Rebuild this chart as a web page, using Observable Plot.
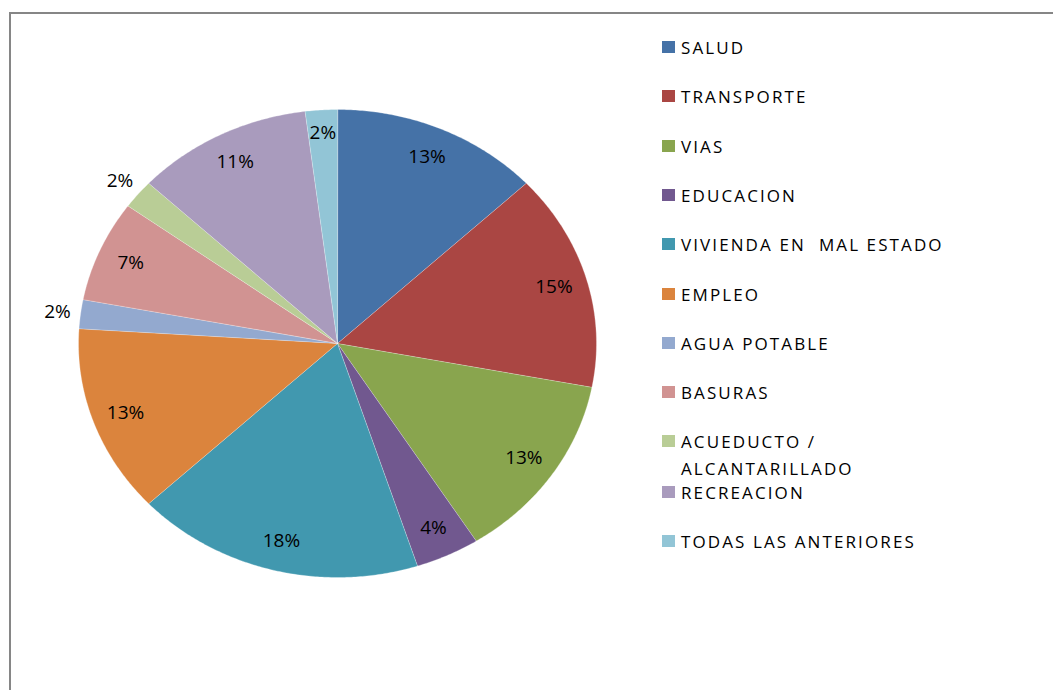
<!DOCTYPE html>
<html>
<head>
<meta charset="utf-8">
<script src="https://cdn.jsdelivr.net/npm/d3@7"></script>
<script src="https://cdn.jsdelivr.net/npm/@observablehq/plot@0.6"></script>
<style>
  html, body { margin: 0; padding: 0; background: #fff; }
  #wrap { position: relative; width: 1053px; height: 690px; overflow: hidden; font-family: "Open Sans", sans-serif; }
  #frame { position: absolute; left: 9px; top: 12px; width: 1100px; height: 700px; border-left: 2px solid #868686; border-top: 2px solid #868686; }
  #chart { position: absolute; left: 0; top: 0; }
  #legend { position: absolute; left: 662px; top: 0; }
  .item { position: absolute; left: 0; white-space: pre; font-size: 17px; letter-spacing: 2.1px; color: #000; line-height: 27px; }
  .sw { position: absolute; left: 0; width: 13px; height: 12px; }
  .lab { position: absolute; left: 19px; top: 0; }
</style>
</head>
<body>
<div id="wrap">
  <div id="frame"></div>
  <div id="chart"></div>
  <div id="legend"></div>
</div>
<script>
// ---- data ----
const categories = ["SALUD", "TRANSPORTE", "VIAS", "EDUCACION", "VIVIENDA EN  MAL ESTADO", "EMPLEO",
  "AGUA POTABLE", "BASURAS", "ACUEDUCTO / ALCANTARILLADO", "RECREACION", "TODAS LAS ANTERIORES"];
const legendLines = [["SALUD"], ["TRANSPORTE"], ["VIAS"], ["EDUCACION"], ["VIVIENDA EN  MAL ESTADO"], ["EMPLEO"],
  ["AGUA POTABLE"], ["BASURAS"], ["ACUEDUCTO /", "ALCANTARILLADO"], ["RECREACION"], ["TODAS LAS ANTERIORES"]];
const values = [13, 15, 13, 4, 18, 13, 2, 7, 2, 11, 2];
const colors = ["#4572A7", "#AA4643", "#89A54E", "#71588F", "#4198AF", "#DB843D",
  "#93A9CF", "#D19392", "#B9CD96", "#A99BBD", "#92C5D6"];

// ---- layout settings ----
const outsideLabels = new Set(["AGUA POTABLE", "ACUEDUCTO / ALCANTARILLADO"]);
const W = 1053, H = 690;

const rows = categories.map((c, i) => ({cat: c, value: values[i]}));
const arcs = d3.pie().sort(null).value(d => d.value)(rows);

// wedge outlines in unit-circle coordinates (angle measured clockwise from top)
const wedges = [];
for (const a of arcs) {
  wedges.push({cat: a.data.cat, x: 0, y: 0});
  const n = Math.max(2, Math.ceil((a.endAngle - a.startAngle) / (Math.PI / 360)));
  for (let k = 0; k <= n; k++) {
    const t = a.startAngle + (a.endAngle - a.startAngle) * k / n;
    wedges.push({cat: a.data.cat, x: Math.sin(t), y: Math.cos(t)});
  }
}
const labels = arcs.map((a, i) => {
  const m = (a.startAngle + a.endAngle) / 2;
  const r = outsideLabels.has(a.data.cat) ? 1.09 : (i === arcs.length - 1 ? 0.9 : 0.87);
  return {cat: a.data.cat, x: r * Math.sin(m), y: r * Math.cos(m), text: a.data.value + "%"};
});

const chart = Plot.plot({
  width: W, height: H,
  marginLeft: 78, marginRight: W - 596,
  marginTop: 109, marginBottom: H - 577,
  x: {domain: [-1, 1], axis: null},
  y: {domain: [-1, 1], axis: null},
  color: {type: "ordinal", domain: categories, range: colors},
  style: {background: "transparent", fontFamily: "'Open Sans', sans-serif"},
  marks: [
    Plot.line(wedges, {x: "x", y: "y", z: "cat", fill: "cat", stroke: "#ffffff", strokeOpacity: 0.35, strokeWidth: 0.8, curve: "linear-closed"}),
    Plot.text(labels, {x: "x", y: "y", text: "text", fontSize: 19, fill: "#000", style: "letter-spacing:2.2px"})
  ]
});
document.getElementById("chart").appendChild(chart);

// ---- legend ----
const legend = document.getElementById("legend");
const rowTop = [47, 96, 146, 195, 244, 294, 343, 392, 441, 492, 541];
legendLines.forEach((lines, i) => {
  const cy = rowTop[i];
  const sw = document.createElement("div");
  sw.className = "sw";
  sw.style.top = (cy - 6) + "px";
  sw.style.background = colors[i];
  legend.appendChild(sw);
  lines.forEach((t, j) => {
    const d = document.createElement("div");
    d.className = "item lab";
    d.style.top = (cy - 13.5 + j * 27) + "px";
    d.textContent = t;
    legend.appendChild(d);
  });
});
</script>
</body>
</html>
